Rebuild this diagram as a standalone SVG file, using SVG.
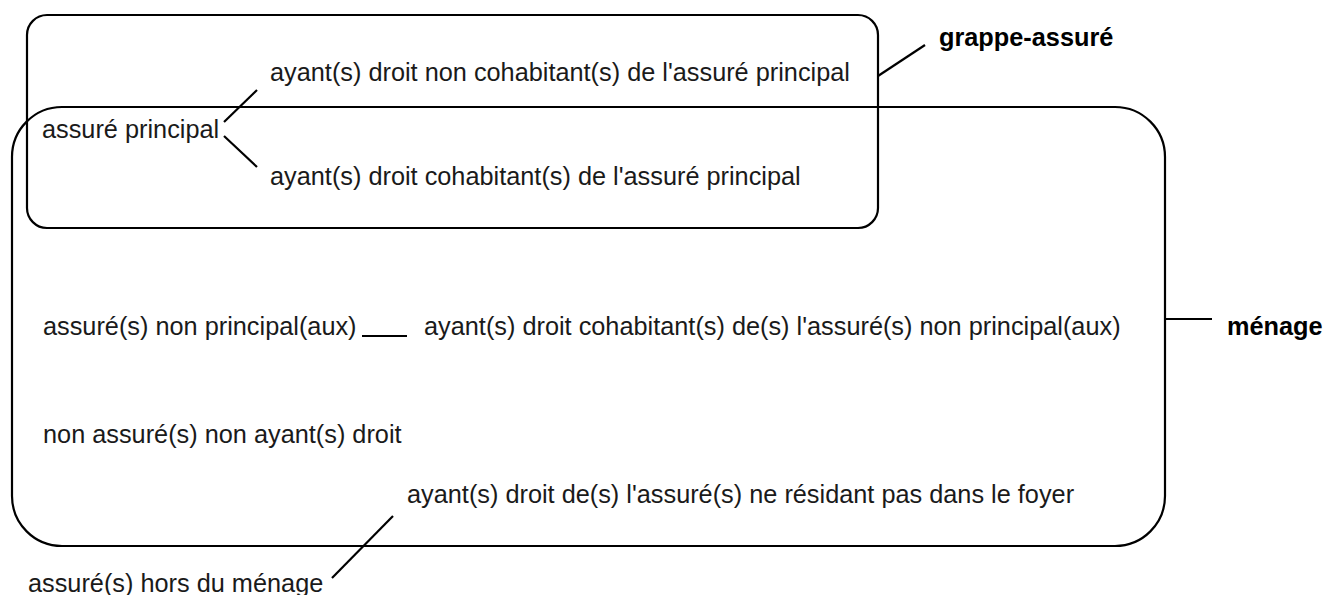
<svg xmlns="http://www.w3.org/2000/svg" width="1326" height="595" viewBox="0 0 1326 595">
<style>
.box{fill:none;stroke:#000;stroke-width:2.2}
.ln{stroke:#000;stroke-width:2.2;fill:none}
text{font-family:"Liberation Sans",Arial,sans-serif;font-size:25.3px;fill:#1a1a1a}
.b{font-weight:bold;fill:#000}
</style>
<rect width="1326" height="595" fill="#fff"/>
<g id="menage"><rect class="box" x="12" y="107" width="1153" height="439" rx="50" ry="50"/></g>
<g id="grappe-assure"><rect class="box" x="27" y="15" width="851" height="213" rx="20" ry="20"/></g>
<g id="connectors">
<line class="ln" x1="224" y1="122" x2="257" y2="90"/>
<line class="ln" x1="224" y1="136" x2="257" y2="167"/>
<line class="ln" x1="878" y1="76" x2="925" y2="45"/>
<line class="ln" x1="362" y1="336" x2="407" y2="336"/>
<line class="ln" x1="1165" y1="319" x2="1212" y2="319"/>
<line class="ln" x1="393" y1="516" x2="332" y2="578"/>
</g>
<g id="label-grappe"><text class="b" x="939" y="46">grappe-assuré</text></g>
<g id="label-menage"><text class="b" x="1227" y="335">ménage</text></g>
<g id="n-ayant-non-cohab"><text x="270" y="81">ayant(s) droit non cohabitant(s) de l'assuré principal</text></g>
<g id="n-assure-principal"><text x="42" y="138">assuré principal</text></g>
<g id="n-ayant-cohab"><text x="270" y="185">ayant(s) droit cohabitant(s) de l'assuré principal</text></g>
<g id="n-assure-non-principal"><text x="43" y="335">assuré(s) non principal(aux)</text></g>
<g id="n-ayant-cohab-np"><text x="424" y="335">ayant(s) droit cohabitant(s) de(s) l'assuré(s) non principal(aux)</text></g>
<g id="n-non-assure"><text x="43" y="443">non assuré(s) non ayant(s) droit</text></g>
<g id="n-ayant-hors-foyer"><text x="407" y="503">ayant(s) droit de(s) l'assuré(s) ne résidant pas dans le foyer</text></g>
<g id="n-assure-hors"><text x="28" y="592">assuré(s) hors du ménage</text></g>
</svg>
